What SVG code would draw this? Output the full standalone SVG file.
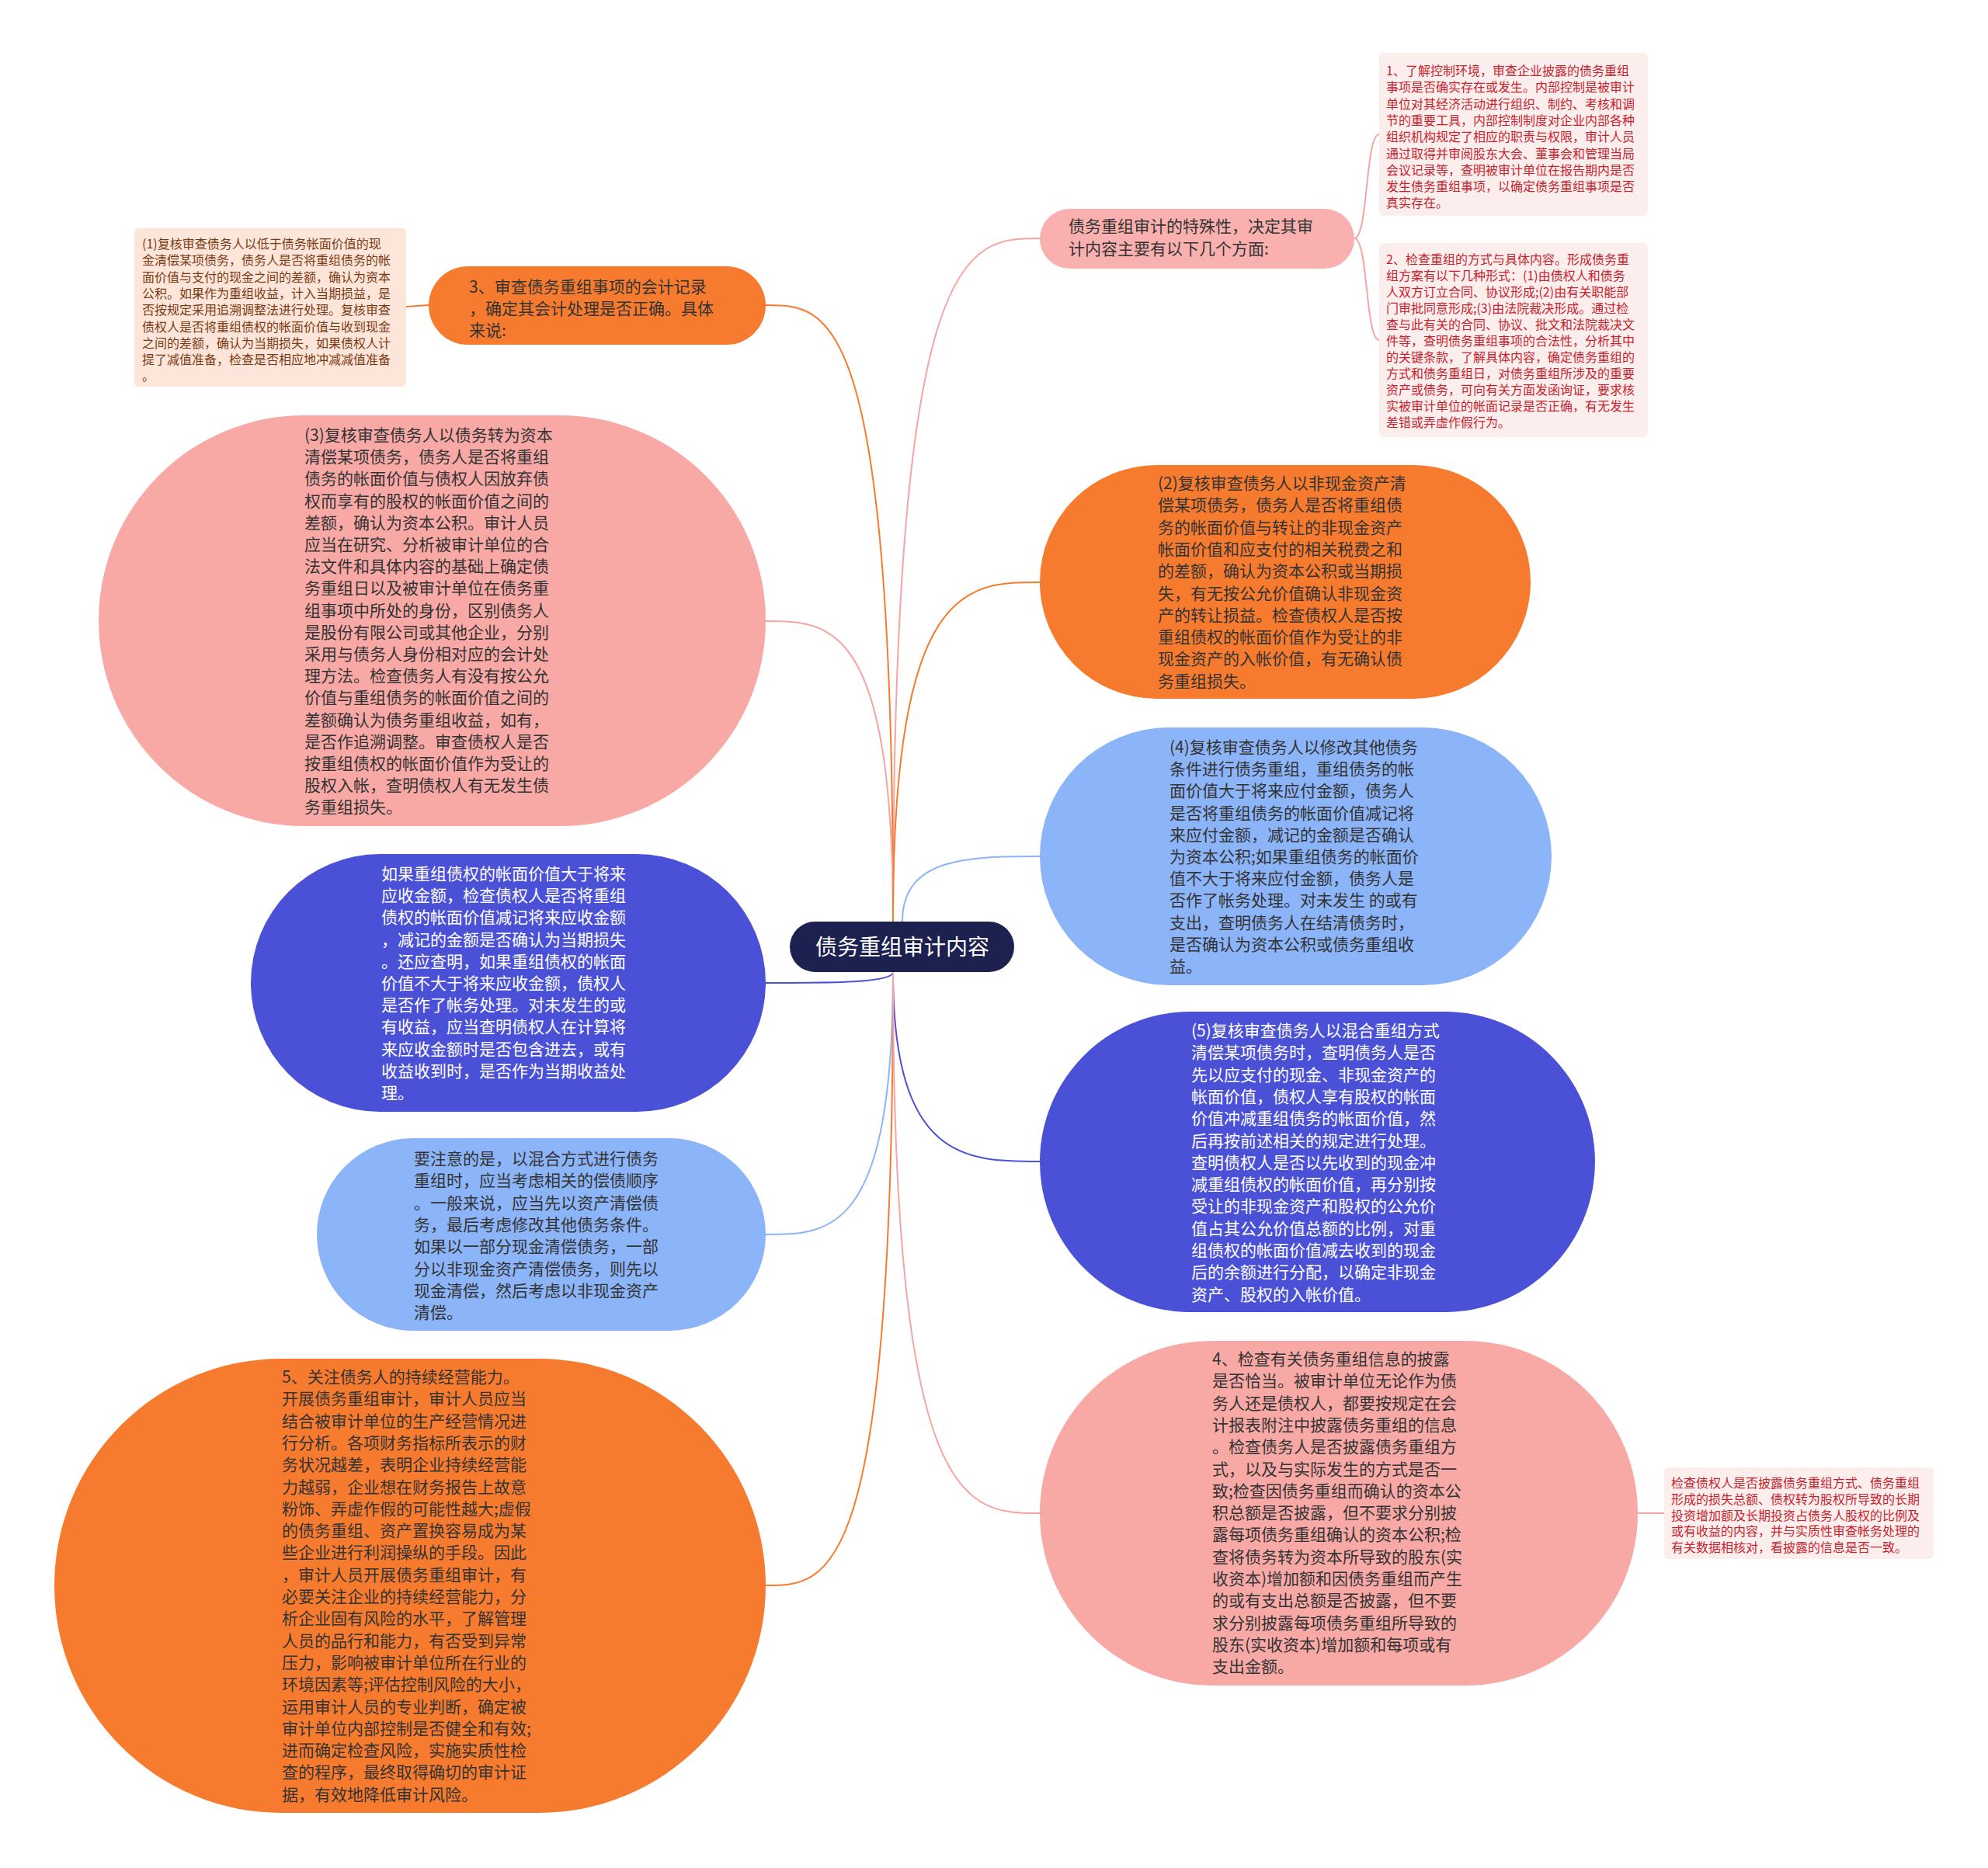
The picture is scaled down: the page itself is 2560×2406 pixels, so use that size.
<svg xmlns="http://www.w3.org/2000/svg" width="2560" height="2406" viewBox="0 0 2560 2406">
<style>
text{font-family:"Noto Sans CJK SC","Noto Sans",sans-serif;}
.t21{font-size:21px;fill:#333;}
.tw{font-size:21px;fill:#fff;}
.t16r{font-size:16px;fill:#c8232c;}
.t16b{font-size:16px;fill:#7a3a14;}
.c{fill:none;stroke-width:2;}
.co{stroke:#f77b2f;} .cp{stroke:#f5a5a2;} .cl{stroke:#8cb4f8;} .cb{stroke:#4b51d6;}
</style>
<rect width="2560" height="2406" fill="#fff"/>
<g id="connectors">
<path class="c cp" d="M1150,1187 C1150,307 1245,307 1339,307"/>
<path class="c co" d="M1150,1187 C1150,393 1068,393 986,393"/>
<path class="c cp" d="M1150,1187 C1150,800 1068,800 986,800"/>
<path class="c co" d="M1150,1187 C1150,750 1245,750 1339,750"/>
<path class="c cl" d="M1162,1187 C1162,1103 1250,1103 1339,1103"/>
<path class="c cb" d="M1150,1252 C1150,1266 1068,1266 986,1266"/>
<path class="c cb" d="M1150,1252 C1150,1496 1245,1496 1339,1496"/>
<path class="c cl" d="M1150,1252 C1150,1590 1068,1590 986,1590"/>
<path class="c co" d="M1150,1252 C1150,2042 1068,2042 986,2042"/>
<path class="c cp" d="M1150,1252 C1150,1949 1245,1949 1339,1949"/>
<path class="c cp" d="M1744,307 C1762,307 1758,173 1776,173"/>
<path class="c cp" d="M1744,307 C1762,307 1758,438 1776,438"/>
<path class="c co" d="M552,393 L523,395"/>
<path class="c cp" d="M2109,1949 L2143,1949"/>
</g>
<g id="root">
<rect x="1017" y="1187" width="289" height="65" rx="32.5" fill="#1d2150"/>
<text x="1162" y="1230" text-anchor="middle" style="font-size:28px;fill:#fff">债务重组审计内容</text>
</g>
<g id="n-top">
<rect x="1339" y="269" width="405" height="77" rx="38.5" fill="#f9b0ae"/>
<text class="t21" x="1376" y="299"><tspan x="1376">债务重组审计的特殊性，决定其审</tspan><tspan x="1376" dy="29">计内容主要有以下几个方面:</tspan></text>
</g>
<g id="box1">
<rect x="1776" y="68" width="346" height="210" rx="6" fill="#fdeeee"/>
<text class="t16r" x="1785" y="97"><tspan x="1785">1、了解控制环境，审查企业披露的债务重组</tspan><tspan x="1785" dy="21.3">事项是否确实存在或发生。内部控制是被审计</tspan><tspan x="1785" dy="21.3">单位对其经济活动进行组织、制约、考核和调</tspan><tspan x="1785" dy="21.3">节的重要工具，内部控制制度对企业内部各种</tspan><tspan x="1785" dy="21.3">组织机构规定了相应的职责与权限，审计人员</tspan><tspan x="1785" dy="21.3">通过取得并审阅股东大会、董事会和管理当局</tspan><tspan x="1785" dy="21.3">会议记录等，查明被审计单位在报告期内是否</tspan><tspan x="1785" dy="21.3">发生债务重组事项，以确定债务重组事项是否</tspan><tspan x="1785" dy="21.3">真实存在。</tspan></text>
</g>
<g id="box2">
<rect x="1776" y="313" width="346" height="250" rx="6" fill="#fdeeee"/>
<text class="t16r" x="1785" y="340"><tspan x="1785">2、检查重组的方式与具体内容。形成债务重</tspan><tspan x="1785" dy="21">组方案有以下几种形式：(1)由债权人和债务</tspan><tspan x="1785" dy="21">人双方订立合同、协议形成;(2)由有关职能部</tspan><tspan x="1785" dy="21">门审批同意形成;(3)由法院裁决形成。通过检</tspan><tspan x="1785" dy="21">查与此有关的合同、协议、批文和法院裁决文</tspan><tspan x="1785" dy="21">件等，查明债务重组事项的合法性，分析其中</tspan><tspan x="1785" dy="21">的关键条款，了解具体内容，确定债务重组的</tspan><tspan x="1785" dy="21">方式和债务重组日，对债务重组所涉及的重要</tspan><tspan x="1785" dy="21">资产或债务，可向有关方面发函询证，要求核</tspan><tspan x="1785" dy="21">实被审计单位的帐面记录是否正确，有无发生</tspan><tspan x="1785" dy="21">差错或弄虚作假行为。</tspan></text>
</g>
<g id="n3">
<rect x="552" y="343" width="434" height="101" rx="50.5" fill="#f77b2f"/>
<text class="t21" x="604" y="377"><tspan x="604">3、审查债务重组事项的会计记录</tspan><tspan x="604" dy="28">，确定其会计处理是否正确。具体</tspan><tspan x="604" dy="28">来说:</tspan></text>
</g>
<g id="box-tl">
<rect x="173" y="294" width="350" height="204" rx="6" fill="#fde6d9"/>
<text class="t16b" x="183" y="320"><tspan x="183">(1)复核审查债务人以低于债务帐面价值的现</tspan><tspan x="183" dy="21.3">金清偿某项债务，债务人是否将重组债务的帐</tspan><tspan x="183" dy="21.3">面价值与支付的现金之间的差额，确认为资本</tspan><tspan x="183" dy="21.3">公积。如果作为重组收益，计入当期损益，是</tspan><tspan x="183" dy="21.3">否按规定采用追溯调整法进行处理。复核审查</tspan><tspan x="183" dy="21.3">债权人是否将重组债权的帐面价值与收到现金</tspan><tspan x="183" dy="21.3">之间的差额，确认为当期损失，如果债权人计</tspan><tspan x="183" dy="21.3">提了减值准备，检查是否相应地冲减减值准备</tspan><tspan x="183" dy="21.3">。</tspan></text>
</g>
<g id="n-pink3">
<rect x="127" y="535" width="859" height="529" rx="264.5" fill="#f8a9a6"/>
<text class="t21" x="392" y="568"><tspan x="392">(3)复核审查债务人以债务转为资本</tspan><tspan x="392" dy="28.2">清偿某项债务，债务人是否将重组</tspan><tspan x="392" dy="28.2">债务的帐面价值与债权人因放弃债</tspan><tspan x="392" dy="28.2">权而享有的股权的帐面价值之间的</tspan><tspan x="392" dy="28.2">差额，确认为资本公积。审计人员</tspan><tspan x="392" dy="28.2">应当在研究、分析被审计单位的合</tspan><tspan x="392" dy="28.2">法文件和具体内容的基础上确定债</tspan><tspan x="392" dy="28.2">务重组日以及被审计单位在债务重</tspan><tspan x="392" dy="28.2">组事项中所处的身份，区别债务人</tspan><tspan x="392" dy="28.2">是股份有限公司或其他企业，分别</tspan><tspan x="392" dy="28.2">采用与债务人身份相对应的会计处</tspan><tspan x="392" dy="28.2">理方法。检查债务人有没有按公允</tspan><tspan x="392" dy="28.2">价值与重组债务的帐面价值之间的</tspan><tspan x="392" dy="28.2">差额确认为债务重组收益，如有，</tspan><tspan x="392" dy="28.2">是否作追溯调整。审查债权人是否</tspan><tspan x="392" dy="28.2">按重组债权的帐面价值作为受让的</tspan><tspan x="392" dy="28.2">股权入帐，查明债权人有无发生债</tspan><tspan x="392" dy="28.2">务重组损失。</tspan></text>
</g>
<g id="n-orange2">
<rect x="1339" y="599" width="632" height="301" rx="150.5" fill="#f77b2f"/>
<text class="t21" x="1491" y="630"><tspan x="1491">(2)复核审查债务人以非现金资产清</tspan><tspan x="1491" dy="28.3">偿某项债务，债务人是否将重组债</tspan><tspan x="1491" dy="28.3">务的帐面价值与转让的非现金资产</tspan><tspan x="1491" dy="28.3">帐面价值和应支付的相关税费之和</tspan><tspan x="1491" dy="28.3">的差额，确认为资本公积或当期损</tspan><tspan x="1491" dy="28.3">失，有无按公允价值确认非现金资</tspan><tspan x="1491" dy="28.3">产的转让损益。检查债权人是否按</tspan><tspan x="1491" dy="28.3">重组债权的帐面价值作为受让的非</tspan><tspan x="1491" dy="28.3">现金资产的入帐价值，有无确认债</tspan><tspan x="1491" dy="28.3">务重组损失。</tspan></text>
</g>
<g id="n-lblue4">
<rect x="1339" y="937" width="659" height="332" rx="166" fill="#8cb4f8"/>
<text class="t21" x="1506" y="970"><tspan x="1506">(4)复核审查债务人以修改其他债务</tspan><tspan x="1506" dy="28.2">条件进行债务重组，重组债务的帐</tspan><tspan x="1506" dy="28.2">面价值大于将来应付金额，债务人</tspan><tspan x="1506" dy="28.2">是否将重组债务的帐面价值减记将</tspan><tspan x="1506" dy="28.2">来应付金额，减记的金额是否确认</tspan><tspan x="1506" dy="28.2">为资本公积;如果重组债务的帐面价</tspan><tspan x="1506" dy="28.2">值不大于将来应付金额，债务人是</tspan><tspan x="1506" dy="28.2">否作了帐务处理。对未发生 的或有</tspan><tspan x="1506" dy="28.2">支出，查明债务人在结清债务时，</tspan><tspan x="1506" dy="28.2">是否确认为资本公积或债务重组收</tspan><tspan x="1506" dy="28.2">益。</tspan></text>
</g>
<g id="n-blue-left">
<rect x="323" y="1100" width="663" height="332" rx="166" fill="#4b51d6"/>
<text class="tw" x="491" y="1133"><tspan x="491">如果重组债权的帐面价值大于将来</tspan><tspan x="491" dy="28.2">应收金额，检查债权人是否将重组</tspan><tspan x="491" dy="28.2">债权的帐面价值减记将来应收金额</tspan><tspan x="491" dy="28.2">，减记的金额是否确认为当期损失</tspan><tspan x="491" dy="28.2">。还应查明，如果重组债权的帐面</tspan><tspan x="491" dy="28.2">价值不大于将来应收金额，债权人</tspan><tspan x="491" dy="28.2">是否作了帐务处理。对未发生的或</tspan><tspan x="491" dy="28.2">有收益，应当查明债权人在计算将</tspan><tspan x="491" dy="28.2">来应收金额时是否包含进去，或有</tspan><tspan x="491" dy="28.2">收益收到时，是否作为当期收益处</tspan><tspan x="491" dy="28.2">理。</tspan></text>
</g>
<g id="n-blue5">
<rect x="1339" y="1303" width="715" height="387" rx="193.5" fill="#4b51d6"/>
<text class="tw" x="1534" y="1335"><tspan x="1534">(5)复核审查债务人以混合重组方式</tspan><tspan x="1534" dy="28.3">清偿某项债务时，查明债务人是否</tspan><tspan x="1534" dy="28.3">先以应支付的现金、非现金资产的</tspan><tspan x="1534" dy="28.3">帐面价值，债权人享有股权的帐面</tspan><tspan x="1534" dy="28.3">价值冲减重组债务的帐面价值，然</tspan><tspan x="1534" dy="28.3">后再按前述相关的规定进行处理。</tspan><tspan x="1534" dy="28.3">查明债权人是否以先收到的现金冲</tspan><tspan x="1534" dy="28.3">减重组债权的帐面价值，再分别按</tspan><tspan x="1534" dy="28.3">受让的非现金资产和股权的公允价</tspan><tspan x="1534" dy="28.3">值占其公允价值总额的比例，对重</tspan><tspan x="1534" dy="28.3">组债权的帐面价值减去收到的现金</tspan><tspan x="1534" dy="28.3">后的余额进行分配，以确定非现金</tspan><tspan x="1534" dy="28.3">资产、股权的入帐价值。</tspan></text>
</g>
<g id="n-lblue-left">
<rect x="408" y="1466" width="578" height="248" rx="124" fill="#8cb4f8"/>
<text class="t21" x="533" y="1500"><tspan x="533">要注意的是，以混合方式进行债务</tspan><tspan x="533" dy="28.3">重组时，应当考虑相关的偿债顺序</tspan><tspan x="533" dy="28.3">。一般来说，应当先以资产清偿债</tspan><tspan x="533" dy="28.3">务，最后考虑修改其他债务条件。</tspan><tspan x="533" dy="28.3">如果以一部分现金清偿债务，一部</tspan><tspan x="533" dy="28.3">分以非现金资产清偿债务，则先以</tspan><tspan x="533" dy="28.3">现金清偿，然后考虑以非现金资产</tspan><tspan x="533" dy="28.3">清偿。</tspan></text>
</g>
<g id="n-orange5">
<rect x="70" y="1750" width="916" height="585" rx="292.5" fill="#f77b2f"/>
<text class="t21" x="363" y="1781"><tspan x="363">5、关注债务人的持续经营能力。</tspan><tspan x="363" dy="28.3">开展债务重组审计，审计人员应当</tspan><tspan x="363" dy="28.3">结合被审计单位的生产经营情况进</tspan><tspan x="363" dy="28.3">行分析。各项财务指标所表示的财</tspan><tspan x="363" dy="28.3">务状况越差，表明企业持续经营能</tspan><tspan x="363" dy="28.3">力越弱，企业想在财务报告上故意</tspan><tspan x="363" dy="28.3">粉饰、弄虚作假的可能性越大;虚假</tspan><tspan x="363" dy="28.3">的债务重组、资产置换容易成为某</tspan><tspan x="363" dy="28.3">些企业进行利润操纵的手段。因此</tspan><tspan x="363" dy="28.3">，审计人员开展债务重组审计，有</tspan><tspan x="363" dy="28.3">必要关注企业的持续经营能力，分</tspan><tspan x="363" dy="28.3">析企业固有风险的水平，了解管理</tspan><tspan x="363" dy="28.3">人员的品行和能力，有否受到异常</tspan><tspan x="363" dy="28.3">压力，影响被审计单位所在行业的</tspan><tspan x="363" dy="28.3">环境因素等;评估控制风险的大小，</tspan><tspan x="363" dy="28.3">运用审计人员的专业判断，确定被</tspan><tspan x="363" dy="28.3">审计单位内部控制是否健全和有效;</tspan><tspan x="363" dy="28.3">进而确定检查风险，实施实质性检</tspan><tspan x="363" dy="28.3">查的程序，最终取得确切的审计证</tspan><tspan x="363" dy="28.3">据，有效地降低审计风险。</tspan></text>
</g>
<g id="n-pink4">
<rect x="1339" y="1727" width="770" height="444" rx="222" fill="#f8a9a6"/>
<text class="t21" x="1561" y="1758"><tspan x="1561">4、检查有关债务重组信息的披露</tspan><tspan x="1561" dy="28.3">是否恰当。被审计单位无论作为债</tspan><tspan x="1561" dy="28.3">务人还是债权人，都要按规定在会</tspan><tspan x="1561" dy="28.3">计报表附注中披露债务重组的信息</tspan><tspan x="1561" dy="28.3">。检查债务人是否披露债务重组方</tspan><tspan x="1561" dy="28.3">式，以及与实际发生的方式是否一</tspan><tspan x="1561" dy="28.3">致;检查因债务重组而确认的资本公</tspan><tspan x="1561" dy="28.3">积总额是否披露，但不要求分别披</tspan><tspan x="1561" dy="28.3">露每项债务重组确认的资本公积;检</tspan><tspan x="1561" dy="28.3">查将债务转为资本所导致的股东(实</tspan><tspan x="1561" dy="28.3">收资本)增加额和因债务重组而产生</tspan><tspan x="1561" dy="28.3">的或有支出总额是否披露，但不要</tspan><tspan x="1561" dy="28.3">求分别披露每项债务重组所导致的</tspan><tspan x="1561" dy="28.3">股东(实收资本)增加额和每项或有</tspan><tspan x="1561" dy="28.3">支出金额。</tspan></text>
</g>
<g id="box-br">
<rect x="2143" y="1890" width="347" height="118" rx="6" fill="#fdeeee"/>
<text class="t16r" x="2152" y="1916"><tspan x="2152">检查债权人是否披露债务重组方式、债务重组</tspan><tspan x="2152" dy="20.8">形成的损失总额、债权转为股权所导致的长期</tspan><tspan x="2152" dy="20.8">投资增加额及长期投资占债务人股权的比例及</tspan><tspan x="2152" dy="20.8">或有收益的内容，并与实质性审查帐务处理的</tspan><tspan x="2152" dy="20.8">有关数据相核对，看披露的信息是否一致。</tspan></text>
</g>
</svg>
